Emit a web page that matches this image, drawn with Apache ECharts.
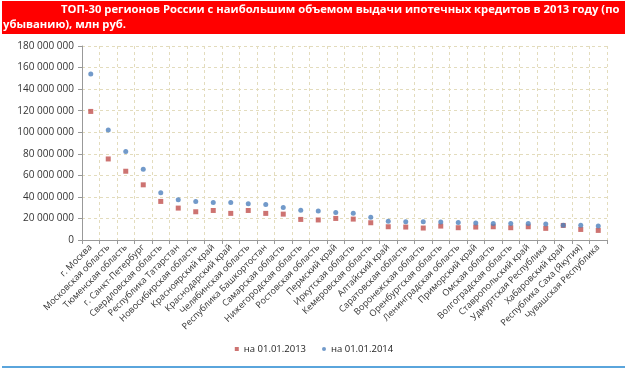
<!DOCTYPE html>
<html>
<head>
<meta charset="utf-8">
<script src="https://cdn.jsdelivr.net/npm/echarts@6/dist/echarts.min.js"></script>
<style>
  html, body { margin: 0; padding: 0; background: #fff; }
  #chart { width: 628px; height: 371px; }
</style>
</head>
<body>
<div id="chart"></div>
<script>
// ТОП-30 регионов по объему выдачи ипотечных кредитов
const regions = [
  "г. Москва", "Московская область", "Тюменская область", "г. Санкт-Петербург",
  "Свердловская область", "Республика Татарстан", "Новосибирская область",
  "Красноярский край", "Краснодарский край", "Челябинская область",
  "Республика Башкортостан", "Самарская область", "Нижегородская область",
  "Ростовская область", "Пермский край", "Иркутская область", "Кемеровская область",
  "Алтайский край", "Саратовская область", "Воронежская область",
  "Оренбургская область", "Ленинградская область", "Приморский край",
  "Омская область", "Волгоградская область", "Ставропольский край",
  "Удмуртская Республика", "Хабаровский край", "Республика Саха (Якутия)",
  "Чувашская Республика"
];

// млн руб. (значения в миллионах, ось показывает полные числа)
const values2013 = [
  119.3, 75.2, 63.8, 51.2, 35.8, 29.6, 26.2, 27.4, 24.7, 27.4,
  24.7, 24.0, 19.1, 18.6, 20.0, 19.4, 16.0, 12.3, 12.0, 11.1,
  12.9, 11.4, 12.0, 12.3, 11.4, 12.3, 10.8, 13.5, 9.8, 8.9
];
const values2014 = [
  154.1, 102.0, 82.0, 65.7, 43.8, 37.3, 35.8, 34.8, 34.8, 33.6,
  33.0, 30.2, 27.6, 26.9, 25.5, 24.9, 21.2, 17.5, 16.9, 16.9,
  16.6, 16.3, 15.7, 15.4, 15.4, 15.4, 14.8, 13.8, 13.8, 12.9
];

const seriesNames = ["на 01.01.2013", "на 01.01.2014"];
const titleLine1 = "ТОП-30 регионов России с наибольшим объемом выдачи ипотечных кредитов в 2013 году (по";
const titleLine2 = "убыванию), млн руб.";

const MLN = 1000000;
const fmt = (v) => String(v).replace(/\B(?=(\d{3})+(?!\d))/g, " ");
const titleFont = "bold 11.25px 'Open Sans', sans-serif";

const chart = echarts.init(document.getElementById("chart"), null, { renderer: "canvas" });

chart.setOption({
  animation: false,
  backgroundColor: "#fff",
  textStyle: { fontFamily: "Open Sans, Liberation Sans, sans-serif" },
  graphic: [
    { type: "rect", left: 2, top: 1, shape: { width: 623, height: 33 }, style: { fill: "#ff0000" } },
    { type: "text", left: 61, top: 4, style: { text: titleLine1, fill: "#fff", font: titleFont } },
    { type: "text", left: 3, top: 19, style: { text: titleLine2, fill: "#fff", font: titleFont } },
    { type: "rect", left: 2, top: 366, shape: { width: 623, height: 2 }, style: { fill: "#5aa5dc" } }
  ],
  grid: { left: 82, right: 21, top: 46, bottom: 131 },
  legend: {
    top: 339,
    left: "center",
    itemWidth: 4,
    itemHeight: 4,
    itemGap: 16,
    textStyle: { fontSize: 9.5, color: "#222" },
    data: [
      { name: seriesNames[0], icon: "rect" },
      { name: seriesNames[1], icon: "circle" }
    ]
  },
  xAxis: {
    type: "category",
    data: regions,
    boundaryGap: true,
    axisLine: { lineStyle: { color: "#999" } },
    axisTick: { show: true, length: 4, lineStyle: { color: "#999" } },
    axisLabel: { rotate: 45, fontSize: 9, color: "#333", interval: 0, margin: 6 },
    splitLine: { show: true, lineStyle: { color: "#e3dcbd", type: [3, 3] } }
  },
  yAxis: {
    type: "value",
    min: 0,
    max: 180 * MLN,
    interval: 20 * MLN,
    axisLine: { show: true, lineStyle: { color: "#999" } },
    axisTick: { show: true, length: 4, lineStyle: { color: "#999" } },
    axisLabel: { fontSize: 10, color: "#333", margin: 8, formatter: fmt },
    splitLine: { lineStyle: { color: "#e3dcbd", type: [3, 3] } }
  },
  series: [
    {
      name: seriesNames[0],
      type: "scatter",
      symbol: "rect",
      symbolSize: 5,
      itemStyle: { color: "#c0504d" },
      data: values2013.map((v) => Math.round(v * MLN))
    },
    {
      name: seriesNames[1],
      type: "scatter",
      symbol: "circle",
      symbolSize: 5,
      itemStyle: { color: "#4f81bd" },
      data: values2014.map((v) => Math.round(v * MLN))
    }
  ]
});
</script>
</body>
</html>
